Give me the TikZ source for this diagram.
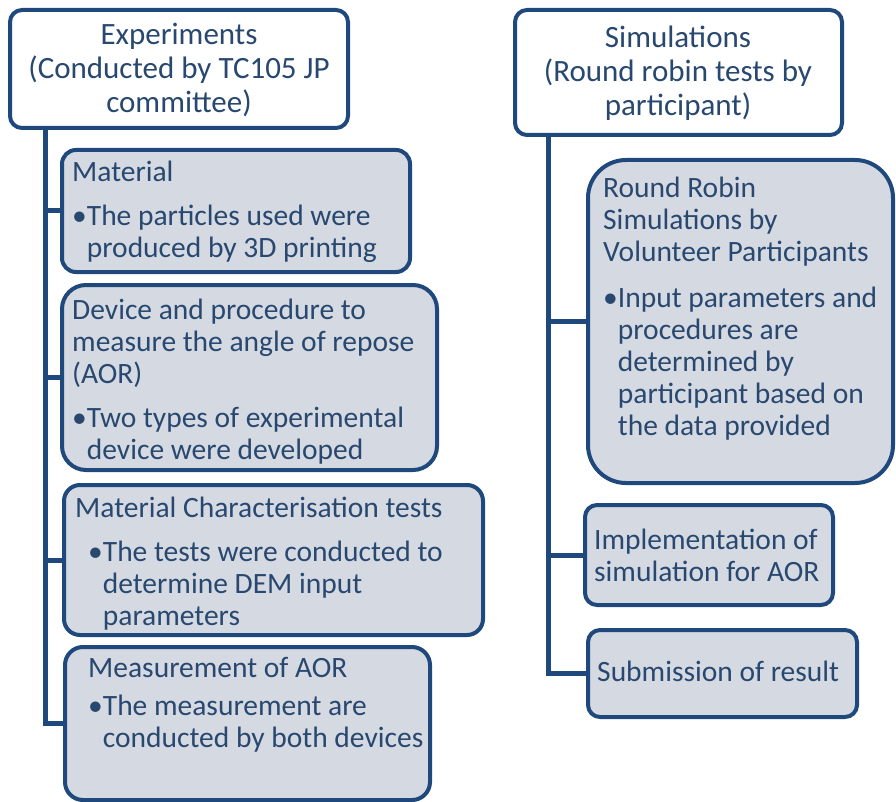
\documentclass[tikz,border=0pt]{standalone}
\usepackage{fontspec}
\setmainfont{Carlito}
\definecolor{navy}{RGB}{31,73,125}
\definecolor{txtc}{RGB}{40,72,112}
\definecolor{boxfill}{RGB}{213,217,225}
\begin{document}
\begin{tikzpicture}[x=1pt,y=-1pt,
  hdr/.style={draw=navy,line width=4pt,fill=white,rounded corners=12pt},
  sub/.style={draw=navy,line width=4pt,fill=boxfill,rounded corners=#1},
  sub/.default=14pt,
  conn/.style={draw=navy,line width=5pt},
  txt/.style={text=txtc,inner sep=0pt,align=left,anchor=north west,font=\fontsize{29.5}{32}\selectfont},
  htxt/.style={text=txtc,inner sep=0pt,align=center,font=\fontsize{31}{34}\selectfont}]
\useasboundingbox (0,0) rectangle (896,802);
\fill[white] (0,0) rectangle (896,802);
% header boxes
\draw[hdr] (10,10) rectangle (348,128);
\node[minimum width=338pt,minimum height=118pt,inner sep=0pt] (exp) at (179,69) {};
\draw[hdr] (515,10) rectangle (842,135);
\node[minimum width=327pt,minimum height=125pt,inner sep=0pt] (sim) at (678.5,72.5) {};
\node[htxt] (exptxt) at (179,70) {Experiments\\(Conducted by TC105 JP\\committee)};
\node[htxt] (simtxt) at (678,73) {Simulations\\(Round robin tests by\\participant)};
% left boxes
\draw[sub] (62,150) rectangle (410,272);
\node[minimum width=348pt,minimum height=122pt,inner sep=0pt] (mat) at (236,211) {};
\draw[sub=24pt] (62,285) rectangle (437,470);
\node[minimum width=375pt,minimum height=185pt,inner sep=0pt] (dev) at (249.5,377.5) {};
\draw[sub=16pt] (64,485) rectangle (483,635);
\node[minimum width=419pt,minimum height=150pt,inner sep=0pt] (chr) at (273.5,560) {};
\draw[sub=18pt] (65,647) rectangle (430,800);
\node[minimum width=365pt,minimum height=153pt,inner sep=0pt] (mea) at (247.5,723.5) {};
% right boxes
\draw[sub=38pt] (588,160) rectangle (893,483);
\node[minimum width=305pt,minimum height=323pt,inner sep=0pt] (rr) at (740.5,321.5) {};
\draw[sub=12pt] (585,505) rectangle (833,605);
\node[minimum width=248pt,minimum height=100pt,inner sep=0pt] (imp) at (709,555) {};
\draw[sub=12pt] (588,630) rectangle (857,717);
\node[minimum width=269pt,minimum height=87pt,inner sep=0pt] (sub) at (722.5,673.5) {};
% texts
\node[txt] (t1) at (72,157) {\rule{0pt}{24pt}Material\\[12pt]\textbullet The particles used were\\\phantom{\textbullet}produced by 3D printing};
\node[txt] (t2) at (72,295) {\rule{0pt}{24pt}Device and procedure to\\measure the angle of repose\\(AOR)\\[12pt]\textbullet Two types of experimental\\\phantom{\textbullet}device were developed};
\node[txt] (t3) at (75,493) {\rule{0pt}{24pt}Material Characterisation tests\\[12pt]\hspace{13pt}\textbullet The tests were conducted to\\\hspace{13pt}\phantom{\textbullet}determine DEM input\\\hspace{13pt}\phantom{\textbullet}parameters};
\node[txt] (t4) at (88,653) {\rule{0pt}{24pt}Measurement of AOR\\[6pt]\textbullet The measurement are\\\phantom{\textbullet}conducted by both devices};
\node[txt] (t5) at (603,173) {\rule{0pt}{24pt}Round Robin\\Simulations by\\Volunteer Participants\\[14pt]\textbullet Input parameters and\\\phantom{\textbullet}procedures are\\\phantom{\textbullet}determined by\\\phantom{\textbullet}participant based on\\\phantom{\textbullet}the data provided};
\node[txt] (t6) at (594,525) {\rule{0pt}{24pt}Implementation of\\simulation for AOR};
\node[txt] (t7) at (597,657) {\rule{0pt}{24pt}Submission of result};
% connectors
\coordinate (lt) at (45,128);
\coordinate (rt) at (548,135);
\draw[conn] (lt) |- (mea.west);
\draw[conn] (lt) |- (mat.west);
\draw[conn] (lt) |- (dev.west);
\draw[conn] (lt) |- (chr.west);
\draw[conn] (rt) |- (sub.west);
\draw[conn] (rt) |- (rr.west);
\draw[conn] (rt) |- (imp.west);
\end{tikzpicture}
\end{document}
